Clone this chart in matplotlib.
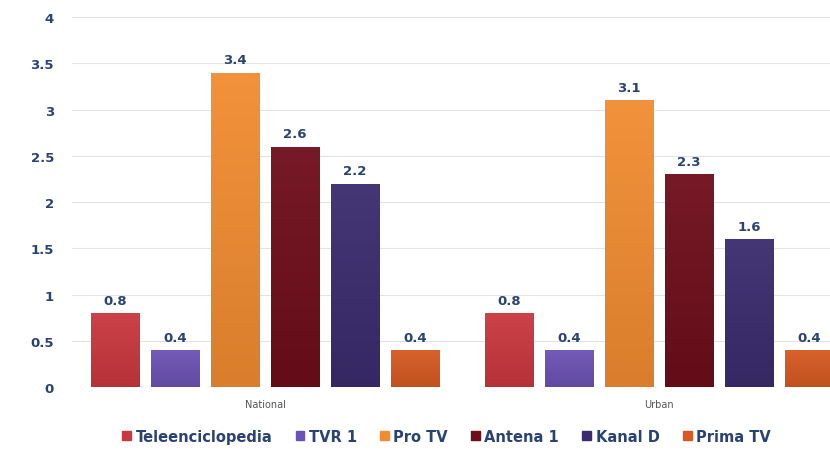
import matplotlib
matplotlib.use("Agg")
import matplotlib.pyplot as plt
import matplotlib.colors as mcolors
import numpy as np

categories = ["National", "Urban"]
channels = ["Teleenciclopedia", "TVR 1", "Pro TV", "Antena 1", "Kanal D", "Prima TV"]
teleenciclopedia = [0.8, 0.8]
tvr1 = [0.4, 0.4]
protv = [3.4, 3.1]
antena1 = [2.6, 2.3]
kanald = [2.2, 1.6]
primatv = [0.4, 0.4]
series = [teleenciclopedia, tvr1, protv, antena1, kanald, primatv]
colors = ["#C9383E", "#6C52B4", "#F28C32", "#6E0E1B", "#3B2C6E", "#D65A22"]
yticks = [0, 0.5, 1, 1.5, 2, 2.5, 3, 3.5, 4]
ytick_labels = ["0", "0.5", "1", "1.5", "2", "2.5", "3", "3.5", "4"]

txt_color = "#2B4274"


def shade(c, f):
    r = np.array(mcolors.to_rgb(c))
    if f >= 0:
        return tuple(r + (1 - r) * f)
    return tuple(r * (1 + f))


fig = plt.figure(figsize=(8.3, 4.52), dpi=100)
ax = fig.add_axes([0.0867, 0.1416, 0.9133, 0.8184])

x = np.arange(len(categories))
step = 0.152
width = 0.122
for i, (vals, c, name) in enumerate(zip(series, colors, channels)):
    pos = x + (i - 2.5) * step
    bars = ax.bar(pos, vals, width, color=c, label=name, zorder=3)
    top = np.array(shade(c, 0.05))
    bot = np.array(shade(c, -0.1))
    for b, v in zip(bars, vals):
        b.set_facecolor("none")
        b.set_edgecolor("none")
        t = np.linspace(0, 1, 64)[:, None]
        grad = (bot[None, :] * (1 - t) + top[None, :] * t)[:, None, :]
        x0 = b.get_x()
        im = ax.imshow(grad, extent=[x0, x0 + b.get_width(), 0, v], origin="lower",
                       aspect="auto", zorder=3, interpolation="bilinear")
        im.set_clip_path(b)
        ax.text(x0 + b.get_width() / 2, v + 0.07, f"{v:g}", ha="center", va="bottom",
                fontsize=9.5, fontweight="bold", color=txt_color, zorder=4)

ax.set_xlim(-0.49, 1.434)
ax.set_ylim(0, 4)
ax.set_yticks(yticks)
ax.set_yticklabels(ytick_labels, fontsize=9.5, fontweight="bold", color=txt_color)
ax.set_xticks(x)
ax.set_xticklabels(categories, fontsize=7, color="#555555")
ax.tick_params(axis="y", length=0, pad=13)
ax.tick_params(axis="x", length=0, pad=9)
ax.grid(axis="y", color="#E3E3E3", linewidth=0.8, zorder=0)
for s in ax.spines.values():
    s.set_visible(False)

handles = [plt.Rectangle((0, 0), 1, 1, color=c) for c in colors]
leg = fig.legend(handles, channels, loc="center", bbox_to_anchor=(0.538, 0.033), ncol=6,
                 frameon=False, handlelength=0.6, handleheight=0.6, handletextpad=0.3,
                 columnspacing=1.6, prop={"size": 10.5, "weight": "bold"})
for t in leg.get_texts():
    t.set_color(txt_color)

fig.savefig("out.png", dpi=100)
